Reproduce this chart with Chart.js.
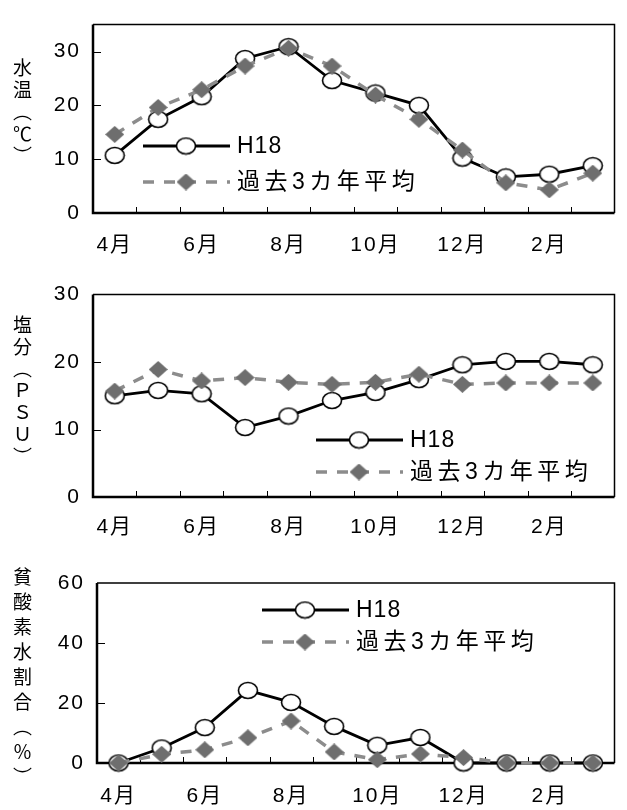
<!DOCTYPE html>
<html>
<head>
<meta charset="utf-8">
<script src="https://cdn.jsdelivr.net/npm/chart.js@4"></script>
<style>
  body { margin: 0; background: #fff; }
  .wrap { position: relative; width: 627px; height: 810px; overflow: hidden; }
  canvas { position: absolute; left: 0; }
  .ttl { position: absolute; left: 11px; writing-mode: vertical-rl; font-family: "Noto Sans CJK JP", sans-serif; font-size: 19px; line-height: 22px; color: #000; }
</style>
</head>
<body>
<div class="wrap">
  <canvas id="c1" width="627" height="270" style="top:0"></canvas>
  <canvas id="c2" width="627" height="270" style="top:270px"></canvas>
  <canvas id="c3" width="627" height="270" style="top:540px"></canvas>
  <div class="ttl" style="top:58px;letter-spacing:3px">水温（℃）</div>
  <div class="ttl" style="top:315px;letter-spacing:3px">塩分（ＰＳＵ）</div>
  <div class="ttl" style="top:567px;letter-spacing:6px">貧酸素水割合（％）</div>
</div>
<script>
// 月
const months = ['4月','5月','6月','7月','8月','9月','10月','11月','12月','1月','2月','3月']
const seriesNames = ['H18', '過去3カ年平均']

// 水温 (℃)
const tempH18 = [10.7, 17.4, 21.6, 28.7, 30.9, 24.6, 22.3, 20.0, 10.2, 6.7, 7.2, 8.8]
const tempAvg = [14.6, 19.6, 22.9, 27.3, 30.6, 27.3, 21.9, 17.4, 11.7, 5.6, 4.3, 7.4]

// 塩分 (PSU)
const salH18 = [15.0, 15.8, 15.3, 10.3, 12.0, 14.3, 15.5, 17.4, 19.6, 20.1, 20.1, 19.6]
const salAvg = [15.7, 18.9, 17.2, 17.7, 17.0, 16.7, 17.0, 18.2, 16.7, 16.9, 16.9, 16.9]

// 貧酸素水割合 (%)
const doH18 = [0, 5.0, 11.8, 24.2, 20.2, 12.2, 5.9, 8.5, 0, 0, 0, 0]
const doAvg = [0, 2.9, 4.4, 8.4, 14.0, 3.7, 1.1, 3.0, 1.8, 0, 0, 0]

const FONT = "'Liberation Sans', 'Noto Sans CJK JP', sans-serif"

// マーカー(少し横長)
function circleMark() {
  const c = document.createElement('canvas')
  c.width = 22; c.height = 19
  const g = c.getContext('2d')
  g.beginPath()
  g.ellipse(11, 9.5, 9.5, 8, 0, 0, Math.PI * 2)
  g.fillStyle = '#fff'; g.fill()
  g.lineWidth = 1.6; g.strokeStyle = '#000'; g.stroke()
  return c
}
function diamondMark() {
  const c = document.createElement('canvas')
  c.width = 19; c.height = 17
  const g = c.getContext('2d')
  g.beginPath()
  g.moveTo(9.5, 0); g.lineTo(19, 8.5); g.lineTo(9.5, 17); g.lineTo(0, 8.5); g.closePath()
  g.fillStyle = '#6e6e6e'; g.fill()
  return c
}
const circleImg = circleMark()
const diamondImg = diamondMark()

const H18_STYLE = { borderColor: '#000', borderWidth: 2.8, pointStyle: circleImg }
const AVG_STYLE = { borderColor: '#8c8c8c', borderWidth: 3.5, borderDash: [11, 10], pointStyle: diamondImg }

// 枠と内向きの目盛り
const framePlugin = {
  id: 'frame',
  beforeDraw(chart) { chart.ctx.letterSpacing = '2px' },
  beforeDatasetsDraw(chart) {
    const { ctx, chartArea: a, scales } = chart
    ctx.save()
    ctx.strokeStyle = '#000'
    ctx.lineWidth = 1.5
    ctx.beginPath()
    ctx.moveTo(a.left, a.top); ctx.lineTo(a.right, a.top); ctx.lineTo(a.right, a.bottom)
    ctx.stroke()
    ctx.lineWidth = 2.5
    ctx.beginPath()
    ctx.moveTo(a.left, a.top); ctx.lineTo(a.left, a.bottom); ctx.lineTo(a.right, a.bottom)
    ctx.stroke()
    ctx.lineWidth = 1
    ctx.beginPath()
    scales.y.ticks.forEach(t => {
      const y = Math.round(scales.y.getPixelForValue(t.value)) + 0.5
      if (y < a.top + 2 || y > a.bottom - 2) return
      ctx.moveTo(a.left, y); ctx.lineTo(a.left + 8, y)
    })
    for (let i = 1; i < months.length; i++) {
      const x = Math.round((scales.x.getPixelForValue(i - 1) + scales.x.getPixelForValue(i)) / 2) + 0.5
      ctx.moveTo(x, a.bottom); ctx.lineTo(x, a.bottom - 6)
    }
    ctx.stroke()
    ctx.restore()
  }
}

// 図中の凡例
const boxLegend = {
  id: 'boxLegend',
  afterDatasetsDraw(chart, args, opts) {
    const { ctx } = chart
    const rows = [
      { y: opts.y[0], st: H18_STYLE, img: circleImg, text: seriesNames[0], ls: '1px' },
      { y: opts.y[1], st: AVG_STYLE, img: diamondImg, text: seriesNames[1], ls: '4.5px' }
    ]
    ctx.save()
    rows.forEach(r => {
      ctx.beginPath()
      ctx.setLineDash(r.st.borderDash || [])
      ctx.strokeStyle = r.st.borderColor
      ctx.lineWidth = r.st.borderWidth
      ctx.moveTo(opts.x, r.y); ctx.lineTo(opts.x + 87, r.y)
      ctx.stroke()
      ctx.drawImage(r.img, opts.x + 43 - r.img.width / 2, r.y - r.img.height / 2)
      ctx.setLineDash([])
      ctx.fillStyle = '#000'
      ctx.font = '23px ' + FONT
      ctx.letterSpacing = r.ls
      ctx.textBaseline = 'middle'
      ctx.fillText(r.text, opts.x + 94, r.y + 1)
    })
    ctx.restore()
  }
}

function makeChart(id, h18, avg, yMax, step, area, labelPad, legendPos) {
  return new Chart(document.getElementById(id), {
    type: 'line',
    data: {
      labels: months,
      datasets: [
        Object.assign({ label: seriesNames[1], data: avg, order: 0, pointRadius: 9, clip: false, tension: 0 }, AVG_STYLE),
        Object.assign({ label: seriesNames[0], data: h18, order: 1, pointRadius: 9, clip: false, tension: 0 }, H18_STYLE)
      ]
    },
    options: {
      responsive: false,
      animation: false,
      layout: { padding: { left: 0, right: 627 - area.right, top: area.top, bottom: 0 } },
      scales: {
        x: {
          offset: true,
          grid: { display: false, drawTicks: false },
          border: { display: false },
          ticks: {
            autoSkip: false, maxRotation: 0, padding: labelPad, color: '#000',
            font: { family: FONT, size: 21 },
            callback: (v, i) => i % 2 === 0 ? months[i] : ''
          },
          afterFit: s => { s.height = 270 - area.bottom }
        },
        y: {
          min: 0, max: yMax,
          grid: { display: false, drawTicks: false },
          border: { display: false },
          ticks: { stepSize: step, includeBounds: false, padding: 12, color: '#000', font: { family: FONT, size: 21 } },
          afterFit: s => { s.width = area.left }
        }
      },
      plugins: {
        legend: { display: false },
        tooltip: { enabled: false },
        boxLegend: legendPos
      }
    },
    plugins: [framePlugin, boxLegend]
  })
}

makeChart('c1', tempH18, tempAvg, 35, 10, { left: 93, right: 626, top: 11, bottom: 213 }, 20, { x: 143, y: [146, 182] })
makeChart('c2', salH18, salAvg, 30, 10, { left: 93, right: 626, top: 24, bottom: 227 }, 18, { x: 316, y: [170, 202] })
makeChart('c3', doH18, doAvg, 60, 20, { left: 97, right: 625, top: 43, bottom: 223 }, 21, { x: 262, y: [70, 102] })
</script>
</body>
</html>
